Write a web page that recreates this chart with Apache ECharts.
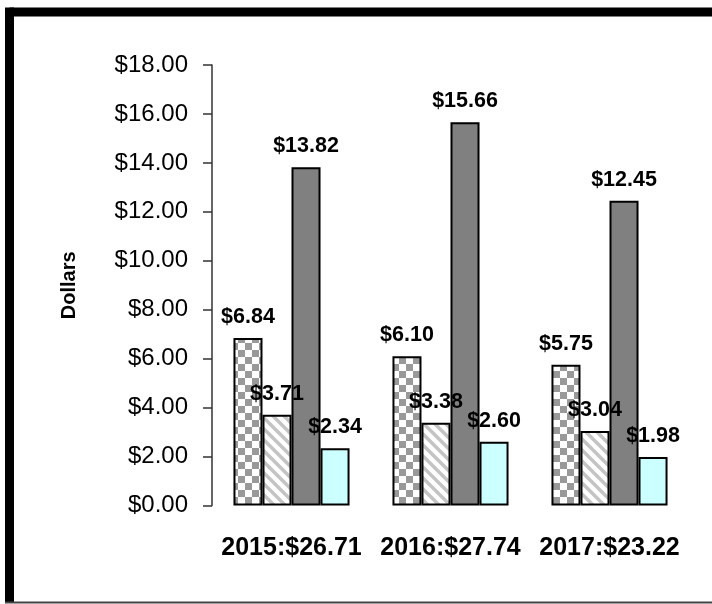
<!DOCTYPE html>
<html>
<head>
<meta charset="utf-8">
<script src="https://cdn.jsdelivr.net/npm/echarts@6/dist/echarts.min.js"></script>
<style>
html,body{margin:0;padding:0;background:#fff;}
#c{width:712px;height:604px;}
</style>
</head>
<body>
<div id="c"></div>
<script>
var categories = ['2015:$26.71', '2016:$27.74', '2017:$23.22'];
var seriesA = [6.84, 6.10, 5.75];
var seriesB = [3.71, 3.38, 3.04];
var seriesC = [13.82, 15.66, 12.45];
var seriesD = [2.34, 2.60, 1.98];
var yTicks = { min: 0, max: 18, interval: 2 };

function checker() {
  var c = document.createElement('canvas');
  c.width = 14; c.height = 14;
  var g = c.getContext('2d');
  g.fillStyle = '#ffffff'; g.fillRect(0, 0, 14, 14);
  g.fillStyle = '#999999';
  g.fillRect(0, 0, 7, 7); g.fillRect(7, 7, 7, 7);
  return c;
}
function hatch() {
  var c = document.createElement('canvas');
  c.width = 11; c.height = 11;
  var g = c.getContext('2d');
  g.fillStyle = '#ffffff'; g.fillRect(0, 0, 11, 11);
  g.strokeStyle = '#c4c4c4'; g.lineWidth = 3.5;
  for (var k = -2; k <= 2; k++) {
    g.beginPath(); g.moveTo(k * 11 - 2, -2); g.lineTo(k * 11 + 13, 13); g.stroke();
  }
  return c;
}

var FONT = "'Liberation Sans', Arial, sans-serif";
function mk(name, data, color) {
  return {
    name: name, type: 'bar', data: data,
    barGap: '0%', barCategoryGap: '27%',
    itemStyle: { color: color, borderColor: '#000', borderWidth: 2 },
    label: {
      show: true, position: 'top', distance: 10,
      formatter: function (p) { return '$' + p.value.toFixed(2); },
      fontFamily: FONT, fontWeight: 'bold', fontSize: 21.5, color: '#000'
    }
  };
}

var chart = echarts.init(document.getElementById('c'), null, { renderer: 'canvas' });
chart.setOption({
  animation: false,
  backgroundColor: '#fff',
  grid: { left: 212, right: 23, top: 65, bottom: 98.5 },
  xAxis: {
    type: 'category', data: categories,
    axisLine: { show: false }, axisTick: { show: false },
    axisLabel: { interval: 0, fontFamily: FONT, fontWeight: 'bold', fontSize: 25, color: '#000', margin: 30 }
  },
  yAxis: {
    type: 'value', min: yTicks.min, max: yTicks.max, interval: yTicks.interval,
    name: 'Dollars', nameLocation: 'middle', nameGap: 133,
    nameTextStyle: { fontFamily: FONT, fontWeight: 'bold', fontSize: 20, color: '#000' },
    axisLine: { show: true, lineStyle: { color: '#333', width: 1.5 } },
    axisTick: { show: true, length: 9, lineStyle: { color: '#333', width: 1.5 } },
    splitLine: { show: false },
    axisLabel: {
      fontFamily: FONT, fontSize: 24, color: '#000', margin: 24,
      formatter: function (v) { return '$' + v.toFixed(2); }
    }
  },
  series: [
    mk('A', seriesA, { image: checker(), repeat: 'repeat' }),
    mk('B', seriesB, { image: hatch(), repeat: 'repeat' }),
    mk('C', seriesC, '#808080'),
    mk('D', seriesD, '#ccffff')
  ],
  graphic: [
    { type: 'line', shape: { x1: 9.5, y1: 12, x2: 712, y2: 12 }, style: { stroke: '#000', lineWidth: 9 } },
    { type: 'line', shape: { x1: 9.5, y1: 7.5, x2: 9.5, y2: 602 }, style: { stroke: '#000', lineWidth: 9 } },
    { type: 'line', shape: { x1: 5, y1: 602.5, x2: 712, y2: 602.5 }, style: { stroke: '#444', lineWidth: 2 } }
  ]
});
</script>
</body>
</html>
